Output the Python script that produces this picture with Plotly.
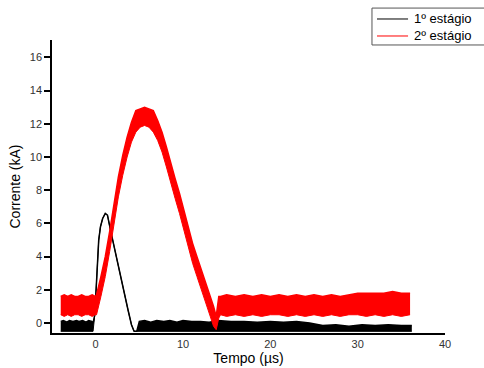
"""
Corrente dos dois estágios (kA) vs tempo (µs)
"""
import plotly.graph_objects as go

# 1º estágio: envelope (máx/mín)
blk_t = [-4.0, -3.7, -3.3, -3.0, -2.6, -2.2, -1.9, -1.5, -1.1, -0.8, -0.45,
         -0.3, -0.1, 0.05, 0.2, 0.35, 0.55, 0.8, 1.1, 1.35, 1.7, 2.1, 2.5,
         2.9, 3.3, 3.7, 4.1, 4.4, 4.7,
         5.0, 5.6, 6.3, 7.0, 7.8, 8.5, 9.3, 10.0, 11.0, 12.0, 13.0, 14.0,
         15.5, 17.0, 18.5, 20.0, 21.5, 23.0, 24.5,
         26.0, 27.5, 29.0, 30.5, 32.0, 33.5, 35.0, 36.2]
blk_hi = [0.1, 0.15, 0.05, 0.15, 0.1, 0.15, 0.1, 0.15, 0.05, 0.15, 0.1,
          0.0, 0.5, 2.0, 3.8, 5.0, 5.8, 6.3, 6.6, 6.5, 5.6, 4.6, 3.6,
          2.7, 1.7, 0.8, -0.1, -0.5, -0.5,
          0.1, 0.15, 0.05, 0.15, 0.1, 0.15, 0.05, 0.15, 0.1, 0.1, 0.05, 0.15,
          0.1, 0.1, 0.05, 0.1, 0.05, 0.1, 0.0,
          -0.15, -0.1, -0.2, -0.1, -0.15, -0.1, -0.15, -0.15]
blk_lo = [-0.5, -0.5, -0.5, -0.5, -0.5, -0.5, -0.5, -0.5, -0.5, -0.5, -0.5,
          -0.5, 0.5, 2.0, 3.8, 5.0, 5.8, 6.3, 6.6, 6.5, 5.6, 4.6, 3.6,
          2.7, 1.7, 0.8, -0.1, -0.5, -0.5,
          -0.5, -0.5, -0.5, -0.5, -0.5, -0.5, -0.5, -0.5, -0.5, -0.5, -0.5, -0.5,
          -0.5, -0.5, -0.5, -0.5, -0.5, -0.5, -0.5,
          -0.5, -0.5, -0.5, -0.5, -0.5, -0.5, -0.5, -0.5]

# 2º estágio
red_t = [-4.0, -3.6, -3.2, -2.8, -2.4, -2.0, -1.6, -1.2, -0.8, -0.4, -0.05,
         0.1, 0.6, 1.1, 1.6, 2.1, 2.6, 3.1, 3.6, 4.1, 4.6, 5.1, 5.6, 6.1,
         6.6, 7.1, 7.6, 8.1, 8.6, 9.1, 9.6, 10.1, 10.6, 11.1, 11.6, 12.1,
         12.6, 13.1, 13.5, 13.8,
         14.1,
         14.3, 15.0, 16.0, 17.0, 18.0, 19.0, 20.0, 21.0, 22.0, 23.0, 24.0,
         25.0, 26.0, 27.0, 28.0, 29.0, 30.0, 31.0, 32.0, 33.0, 34.0, 35.0, 36.0]
red_hi = [1.6, 1.7, 1.6, 1.7, 1.6, 1.6, 1.7, 1.6, 1.6, 1.7, 1.6,
          1.7, 2.8, 4.0, 5.5, 7.2, 8.8, 10.1, 11.2, 12.1, 12.8, 12.9, 13.0, 12.9,
          12.8, 12.2, 11.5, 10.6, 9.6, 8.7, 7.8, 6.8, 5.8, 4.8, 4.0, 3.2,
          2.5, 1.7, 1.0, 0.4,
          1.6,
          1.6, 1.7, 1.6, 1.7, 1.6, 1.7, 1.6, 1.7, 1.6, 1.7, 1.6,
          1.7, 1.6, 1.7, 1.6, 1.7, 1.8, 1.8, 1.8, 1.8, 1.9, 1.8, 1.8]
red_lo = [0.5, 0.4, 0.5, 0.4, 0.5, 0.5, 0.4, 0.5, 0.5, 0.4, 0.5,
          0.5, 1.6, 2.8, 4.3, 6.1, 7.6, 8.9, 10.0, 10.9, 11.5, 11.8, 11.9, 11.8,
          11.5, 11.0, 10.3, 9.4, 8.4, 7.5, 6.6, 5.6, 4.6, 3.6, 2.8, 2.0,
          1.3, 0.5, -0.2, -0.4,
          0.3,
          0.5, 0.4, 0.5, 0.4, 0.5, 0.4, 0.5, 0.5, 0.4, 0.5, 0.4,
          0.5, 0.4, 0.5, 0.4, 0.5, 0.5, 0.4, 0.5, 0.4, 0.5, 0.4, 0.5]

series_names = ['1º estágio', '2º estágio']
series_colors = ['#000000', '#ff0000']

x_ticks = [0, 10, 20, 30, 40]
y_ticks = [0, 2, 4, 6, 8, 10, 12, 14, 16]

FONT = "Liberation Sans, Arial, sans-serif"


def add_band(fig, t, lo, hi, color, name):
    """envelope lo..hi preenchido"""
    fig.add_trace(go.Scatter(x=t, y=lo, mode='lines', line=dict(color=color, width=1),
                             showlegend=False, hoverinfo='skip'))
    fig.add_trace(go.Scatter(x=t, y=hi, mode='lines', line=dict(color=color, width=1.5),
                             fill='tonexty', fillcolor=color, showlegend=False, name=name))


fig = go.Figure()
add_band(fig, blk_t, blk_lo, blk_hi, series_colors[0], series_names[0])
add_band(fig, red_t, red_lo, red_hi, series_colors[1], series_names[1])

# legenda desenhada à mão (a legenda do plotly empurra as margens)
fig.add_shape(type='rect', xref='paper', yref='paper', x0=0.8142, x1=1.1069, y0=0.983, y1=1.109,
              line=dict(color='#555', width=1), fillcolor='white', layer='above')
for i, (name, color) in enumerate(zip(series_names, series_colors)):
    yy = 1.0717 - i * 0.058
    fig.add_shape(type='line', xref='paper', yref='paper', x0=0.827, x1=0.906, y0=yy, y1=yy,
                  line=dict(color=color, width=1), layer='above')
    fig.add_annotation(xref='paper', yref='paper', x=0.917, y=yy, text=name, showarrow=False,
                       xanchor='left', yanchor='middle', font=dict(size=13, color='#000'))

fig.update_layout(
    width=484, height=368,
    margin=dict(l=52, r=39, t=40, b=35),
    plot_bgcolor='white', paper_bgcolor='white',
    font=dict(family=FONT, size=12, color='#222'),
    showlegend=False,
    xaxis=dict(range=[-5, 40], tickvals=x_ticks, showgrid=False, zeroline=False,
               showline=True, linecolor='black', linewidth=1.5, ticks='',
               automargin=False,
               tickfont=dict(size=11, color='#333'),
               title=dict(text='Tempo (µs)', font=dict(size=14, color='#000'), standoff=4)),
    yaxis=dict(range=[-0.6, 17.05], tickvals=y_ticks, showgrid=False, zeroline=False,
               showline=True, linecolor='black', linewidth=1.5, ticks='outside',
               ticklen=6, tickwidth=1.5, tickcolor='black', automargin=False,
               tickfont=dict(size=11, color='#333'),
               title=dict(text='Corrente (kA)', font=dict(size=14, color='#000'), standoff=6)),
)

# sem margem do <body>, para o gráfico ocupar a janela inteira
fig.write_html("out.html", config={'displayModeBar': False},
               post_script="document.body.style.margin='0';")
